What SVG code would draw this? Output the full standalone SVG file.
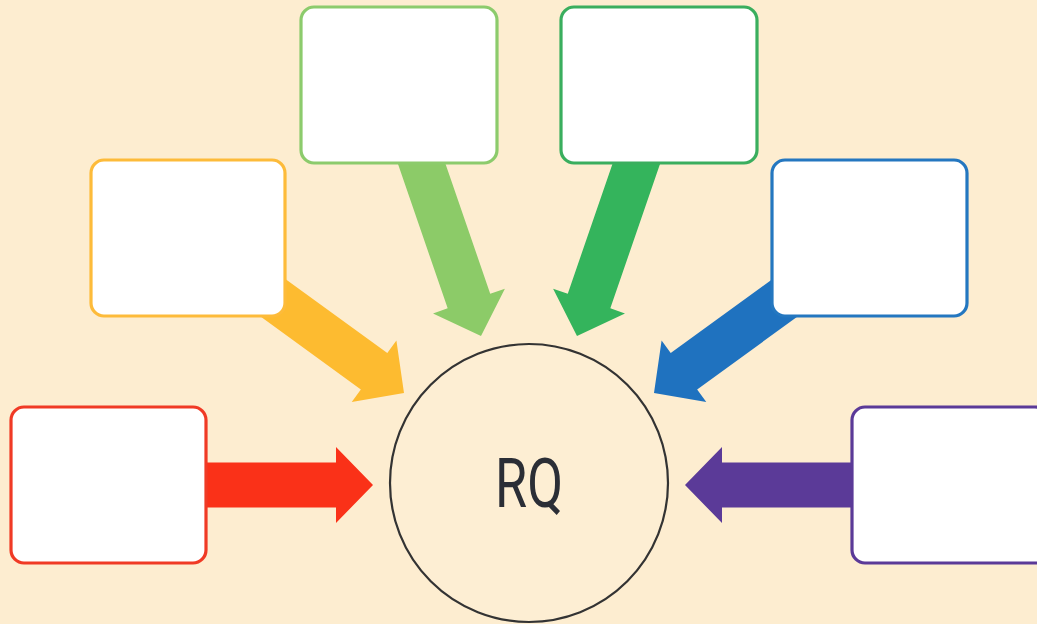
<svg xmlns="http://www.w3.org/2000/svg" width="1037" height="624" viewBox="0 0 1037 624">
<style>
.box{fill:#ffffff;stroke-width:3.2}
.lbl{font-family:Roboto,"Liberation Sans",sans-serif;font-size:68px;fill:#2b2e36}
</style>
<defs>
<path id="arr" d="M0,0 L-37,-38 L-37,-22.5 L-220,-22.5 L-220,22.5 L-37,22.5 L-37,38 Z"/>
</defs>
<rect x="0" y="0" width="1037" height="624" fill="#fdedd0"/>
<g id="connectors">
<use href="#arr" fill="#fa3118" transform="translate(373,485)"/>
<use href="#arr" fill="#5b3a98" transform="translate(685,485) rotate(180)"/>
<use href="#arr" fill="#fdbb30" transform="translate(404,393) rotate(36)"/>
<use href="#arr" fill="#1f72bf" transform="translate(654,393) rotate(144)"/>
<use href="#arr" fill="#8ccb68" transform="translate(481,336) rotate(71)"/>
<use href="#arr" fill="#34b45c" transform="translate(577,336) rotate(109)"/>
</g>
<g id="center">
<circle cx="529" cy="483" r="139" fill="#fdeed3" stroke="#333333" stroke-width="2.2"/>
<text class="lbl" x="529" y="507" text-anchor="middle" textLength="68" lengthAdjust="spacingAndGlyphs">RQ</text>
</g>
<g id="box-red"><rect class="box" x="11" y="407" width="195" height="156" rx="13" stroke="#f03a25"/></g>
<g id="box-yellow"><rect class="box" x="91" y="160" width="194" height="156" rx="13" stroke="#fdbb3a"/></g>
<g id="box-lightgreen"><rect class="box" x="301" y="7" width="196" height="156" rx="13" stroke="#8ccb6c"/></g>
<g id="box-darkgreen"><rect class="box" x="561" y="7" width="196" height="156" rx="13" stroke="#3aae5e"/></g>
<g id="box-blue"><rect class="box" x="772" y="160" width="195" height="156" rx="13" stroke="#2477c0"/></g>
<g id="box-purple"><rect class="box" x="852" y="407" width="196" height="156" rx="13" stroke="#5b3a98"/></g>
</svg>
